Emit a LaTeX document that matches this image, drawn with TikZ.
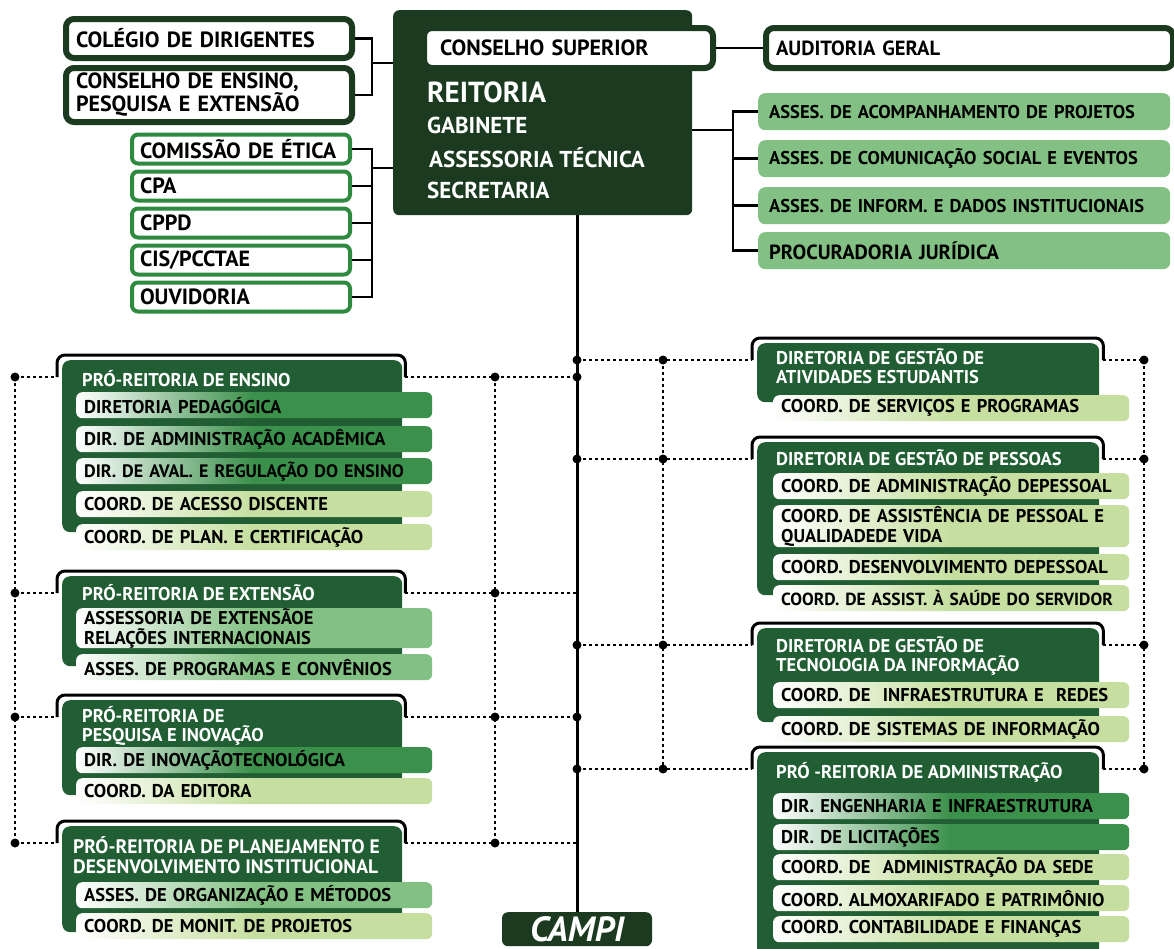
\documentclass[tikz,border=0pt]{standalone}
\usepackage{fontspec}
\setmainfont{PT Sans}
\definecolor{escuro}{RGB}{27,58,32}
\definecolor{verdepro}{RGB}{34,94,51}
\definecolor{medio}{RGB}{59,144,75}
\definecolor{claromedio}{RGB}{131,192,131}
\definecolor{claro}{RGB}{198,223,160}
\definecolor{verde}{RGB}{45,138,62}

\begin{document}
\begin{tikzpicture}[x=1pt,y=-1pt,
    moldura/.style={draw=escuro, line width=6pt, fill=white, rounded corners=8pt, anchor=north west,
      align=left, inner xsep=10pt, inner ysep=0pt, font=\bfseries\fontsize{22}{23}\selectfont},
    comissao/.style={draw=verde, line width=4pt, fill=white, rounded corners=6pt, anchor=west,
      text width=202pt, minimum height=29pt, inner xsep=8pt, inner ysep=0pt, align=left,
      font=\bfseries\fontsize{22}{23}\selectfont},
    assessoria/.style={fill=claromedio, rounded corners=7pt, anchor=north west, text width=390pt,
      minimum height=37pt, inner xsep=11pt, inner ysep=0pt, align=left,
      font=\bfseries\fontsize{18.5}{21}\selectfont},
    diretoria/.style={fill=verdepro, rounded corners=8pt, anchor=north west, minimum width=340pt},
    titulo/.style={text=white, anchor=west, align=left, inner sep=0pt,
      font=\bfseries\fontsize{18.5}{19.5}\selectfont},
    sub/.style={rounded corners=6pt, left color=white, right color=#1, middle color=#1,
      anchor=north west, text width=340pt, minimum height=26pt, inner xsep=8pt, inner ysep=0pt,
      align=left, font=\bfseries\fontsize{18.5}{20}\selectfont},
    reit/.style={text=white, anchor=west, inner sep=0pt, font=\bfseries\fontsize{23}{25}\selectfont},
    colchete/.style={draw=black, line width=3pt, rounded corners=8pt},
    pontilhado/.style={line width=2.5pt, dash pattern=on 2.5pt off 3.5pt},
    ligacao/.style={line width=2.5pt},
    tronco/.style={line width=3pt}
  ]
  \useasboundingbox (0,0) rectangle (1174,948);
  \clip (0,0) rectangle (1174,948);

  % reitoria e conselhos
  \node[fill=escuro, rounded corners=6pt, anchor=north west, minimum width=299pt, minimum height=205pt] (reitoria) at (393,10) {};
  \node[moldura, inner xsep=16pt, text width=257pt, minimum height=40pt] (consup) at (421,25) {CONSELHO SUPERIOR};
  \node[reit, font=\bfseries\fontsize{29}{30}\selectfont] (reit-t) at (427,92) {REITORIA};
  \node[reit] (gab) at (427,125) {GABINETE};
  \node[reit] (asstec) at (429,158) {ASSESSORIA TÉCNICA};
  \node[reit] (secr) at (427,190) {SECRETARIA};

  \node[moldura, text width=266pt, minimum height=39pt] (coldir) at (63,16) {COLÉGIO DE DIRIGENTES};
  \node[moldura, text width=266pt, minimum height=54pt] (consens) at (63,65) {CONSELHO DE ENSINO,\\PESQUISA E EXTENSÃO};
  \node[moldura, text width=387pt, minimum height=40pt, font=\bfseries\fontsize{20.5}{22}\selectfont] (audit) at (763,25) {AUDITORIA GERAL};

  \node[comissao] (etica) at (130,149) {COMISSÃO DE ÉTICA};
  \node[comissao] (cpa) at (130,186) {CPA};
  \node[comissao] (cppd) at (130,223) {CPPD};
  \node[comissao] (cis) at (130,260) {CIS/PCCTAE};
  \node[comissao] (ouvid) at (130,297) {OUVIDORIA};

  \node[assessoria] (acomp) at (758,93) {ASSES. DE ACOMPANHAMENTO DE PROJETOS};
  \node[assessoria] (comun) at (758,140) {ASSES. DE COMUNICAÇÃO SOCIAL E EVENTOS};
  \node[assessoria] (inform) at (758,187) {ASSES. DE INFORM. E DADOS INSTITUCIONAIS};
  \node[assessoria, font=\bfseries\fontsize{20.5}{21}\selectfont] (proc) at (758,232) {PROCURADORIA JURÍDICA};

  \coordinate (jcons) at (372,63);
  \draw[ligacao] (coldir.east) -| (jcons) |- (consens.east);
  \draw[ligacao] (jcons) -- (jcons -| reitoria.west);
  \coordinate (jcom) at (372,168);
  \draw[ligacao] (etica.east) -| (jcom |- ouvid.east) -- (ouvid.east);
  \draw[ligacao] (cpa.east) -- (jcom |- cpa.east);
  \draw[ligacao] (cppd.east) -- (jcom |- cppd.east);
  \draw[ligacao] (cis.east) -- (jcom |- cis.east);
  \draw[ligacao] (jcom) -- (jcom -| reitoria.west);
  \draw[ligacao] (consup.east) -- (audit.west);
  \coordinate (jass) at (733,130);
  \draw[ligacao] (acomp.west) -| (jass |- proc.west) -- (proc.west);
  \draw[ligacao] (comun.west) -- (jass |- comun.west);
  \draw[ligacao] (inform.west) -- (jass |- inform.west);
  \draw[ligacao] (jass) -- (jass -| reitoria.east);

  % pro-reitorias (esquerda)
  \node[diretoria, minimum height=172pt] (pre) at (62,360) {};
  \node[diretoria, minimum height=90pt] (prex) at (62,576) {};
  \node[diretoria, minimum height=95pt] (prpi) at (62,700) {};
  \node[diretoria, minimum height=106pt] (prpdi) at (62,826) {};
  \node[titulo] (pre-t) at (82,379) {PRÓ-REITORIA DE ENSINO};
  \node[titulo] (prex-t) at (82,593) {PRÓ-REITORIA DE EXTENSÃO};
  \node[titulo] (prpi-t) at (82,726) {PRÓ-REITORIA DE\\PESQUISA E INOVAÇÃO};
  \node[titulo, font=\bfseries\fontsize{19.5}{20}\selectfont] (prpdi-t) at (73,855) {PRÓ-REITORIA DE PLANEJAMENTO E\\DESENVOLVIMENTO INSTITUCIONAL};

  \node[sub=medio] (dped) at (76,392) {DIRETORIA PEDAGÓGICA};
  \node[sub=medio] (dacad) at (76,426) {DIR. DE ADMINISTRAÇÃO ACADÊMICA};
  \node[sub=medio, font=\bfseries\fontsize{18}{20}\selectfont] (daval) at (76,458) {DIR. DE AVAL. E REGULAÇÃO DO ENSINO};
  \node[sub=claro] (cacesso) at (76,491) {COORD. DE ACESSO DISCENTE};
  \node[sub=claro] (cplan) at (76,524) {COORD. DE PLAN. E CERTIFICAÇÃO};
  \node[sub=claromedio, minimum height=40pt] (aext) at (76,608) {ASSESSORIA DE EXTENSÃOE\\RELAÇÕES INTERNACIONAIS};
  \node[sub=claromedio] (aprog) at (76,654) {ASSES. DE PROGRAMAS E CONVÊNIOS};
  \node[sub=medio] (dinov) at (76,747) {DIR. DE INOVAÇÃOTECNOLÓGICA};
  \node[sub=claro] (cedit) at (76,778) {COORD. DA EDITORA};
  \node[sub=claromedio] (aorg) at (76,882) {ASSES. DE ORGANIZAÇÃO E MÉTODOS};
  \node[sub=claro] (cmonit) at (76,913) {COORD. DE MONIT. DE PROJETOS};

  % diretorias (direita)
  \node[diretoria, minimum width=342pt, minimum height=59pt] (dgae) at (757,343) {};
  \node[diretoria, minimum width=342pt, minimum height=153pt] (dgp) at (757,442) {};
  \node[diretoria, minimum width=342pt, minimum height=94pt] (dgti) at (757,628) {};
  \node[diretoria, minimum width=342pt, minimum height=220pt] (proad) at (757,752) {};
  \node[titulo] (dgae-t) at (776,366) {DIRETORIA DE GESTÃO DE\\ATIVIDADES ESTUDANTIS};
  \node[titulo] (dgp-t) at (776,458) {DIRETORIA DE GESTÃO DE PESSOAS};
  \node[titulo] (dgti-t) at (776,656) {DIRETORIA DE GESTÃO DE\\TECNOLOGIA DA INFORMAÇÃO};
  \node[titulo] (proad-t) at (776,772) {PRÓ -REITORIA DE ADMINISTRAÇÃO};

  \node[sub=claro] (cserv) at (773,395) {COORD. DE SERVIÇOS E PROGRAMAS};
  \node[sub=claro] (cadmp) at (773,473) {COORD. DE ADMINISTRAÇÃO DEPESSOAL};
  \node[sub=claro, minimum height=42pt] (cassp) at (773,505) {COORD. DE ASSISTÊNCIA DE PESSOAL E\\QUALIDADEDE VIDA};
  \node[sub=claro] (cdesp) at (773,554) {COORD. DESENVOLVIMENTO DEPESSOAL};
  \node[sub=claro, font=\bfseries\fontsize{17.5}{20}\selectfont] (csaude) at (773,585) {COORD. DE ASSIST. À SAÚDE DO SERVIDOR};
  \node[sub=claro] (credes) at (773,682) {COORD. DE~ INFRAESTRUTURA E~ REDES};
  \node[sub=claro] (csist) at (773,716) {COORD. DE SISTEMAS DE INFORMAÇÃO};
  \node[sub=medio] (deng) at (773,793) {DIR. ENGENHARIA E INFRAESTRUTURA};
  \node[sub=medio] (dlic) at (773,824) {DIR. DE LICITAÇÕES};
  \node[sub=claro] (csede) at (773,854) {COORD. DE~ ADMINISTRAÇÃO DA SEDE};
  \node[sub=claro] (calmox) at (773,885) {COORD. ALMOXARIFADO E PATRIMÔNIO};
  \node[sub=claro] (ccont) at (773,916) {COORD. CONTABILIDADE E FINANÇAS};

  \node[fill=escuro, rounded corners=6pt, anchor=north, minimum width=150pt, minimum height=34pt, inner sep=0pt,
    text=white, font=\bfseries\itshape\fontsize{35}{36}\selectfont] (campi) at (577,912) {CAMPI};

  % colchetes
  \draw[colchete] ([shift={(-5,17)}]pre.north west) coordinate (pre-l) |- ([shift={(3,-5)}]pre.north east) -- ([shift={(3,17)}]pre.north east) coordinate (pre-r);
  \draw[colchete] ([shift={(-5,17)}]prex.north west) coordinate (prex-l) |- ([shift={(3,-5)}]prex.north east) -- ([shift={(3,17)}]prex.north east) coordinate (prex-r);
  \draw[colchete] ([shift={(-5,17)}]prpi.north west) coordinate (prpi-l) |- ([shift={(3,-5)}]prpi.north east) -- ([shift={(3,17)}]prpi.north east) coordinate (prpi-r);
  \draw[colchete] ([shift={(-5,17)}]prpdi.north west) coordinate (prpdi-l) |- ([shift={(3,-5)}]prpdi.north east) -- ([shift={(3,17)}]prpdi.north east) coordinate (prpdi-r);
  \draw[colchete] ([shift={(-5,17)}]dgae.north west) coordinate (dgae-l) |- ([shift={(4,-5)}]dgae.north east) -- ([shift={(4,17)}]dgae.north east) coordinate (dgae-r);
  \draw[colchete] ([shift={(-5,17)}]dgp.north west) coordinate (dgp-l) |- ([shift={(4,-5)}]dgp.north east) -- ([shift={(4,17)}]dgp.north east) coordinate (dgp-r);
  \draw[colchete] ([shift={(-5,17)}]dgti.north west) coordinate (dgti-l) |- ([shift={(4,-5)}]dgti.north east) -- ([shift={(4,17)}]dgti.north east) coordinate (dgti-r);
  \draw[colchete] ([shift={(-5,17)}]proad.north west) coordinate (proad-l) |- ([shift={(4,-5)}]proad.north east) -- ([shift={(4,17)}]proad.north east) coordinate (proad-r);

  % tronco e pontilhados
  \coordinate (esq) at (15,0);
  \coordinate (meio) at (495,0);
  \coordinate (dir) at (663,0);
  \coordinate (borda) at (1144,0);
  \draw[tronco] (campi.north |- reitoria.south) -- (campi.north);

  \draw[pontilhado] (esq |- pre-l) -- (esq |- prpdi-l);
  \draw[pontilhado] (meio |- pre-r) -- (meio |- prpdi-r);
  \draw[pontilhado] (esq |- pre-l) -- (pre-l) (pre-r) -- (campi.north |- pre-r);
  \draw[pontilhado] (esq |- prex-l) -- (prex-l) (prex-r) -- (campi.north |- prex-r);
  \draw[pontilhado] (esq |- prpi-l) -- (prpi-l) (prpi-r) -- (campi.north |- prpi-r);
  \draw[pontilhado] (esq |- prpdi-l) -- (prpdi-l) (prpdi-r) -- (campi.north |- prpdi-r);

  \draw[pontilhado] (dir |- dgae-l) -- (dir |- proad-l);
  \draw[pontilhado] (borda |- dgae-r) -- (borda |- proad-r);
  \draw[pontilhado] (campi.north |- dgae-l) -- (dgae-l) (dgae-r) -- (borda |- dgae-r);
  \draw[pontilhado] (campi.north |- dgp-l) -- (dgp-l) (dgp-r) -- (borda |- dgp-r);
  \draw[pontilhado] (campi.north |- dgti-l) -- (dgti-l) (dgti-r) -- (borda |- dgti-r);
  \draw[pontilhado] (campi.north |- proad-l) -- (proad-l) (proad-r) -- (borda |- proad-r);

  % pontos
  \fill (esq |- pre-l) circle (4.5pt) (esq |- prex-l) circle (4.5pt) (esq |- prpi-l) circle (4.5pt) (esq |- prpdi-l) circle (4.5pt);
  \fill (meio |- pre-r) circle (4.5pt) (meio |- prex-r) circle (4.5pt) (meio |- prpi-r) circle (4.5pt) (meio |- prpdi-r) circle (4.5pt);
  \fill (campi.north |- pre-r) circle (4.5pt) (campi.north |- prpi-r) circle (4.5pt);
  \fill (campi.north |- dgae-l) circle (4.5pt) (campi.north |- dgp-l) circle (4.5pt) (campi.north |- dgti-l) circle (4.5pt) (campi.north |- proad-l) circle (4.5pt);
  \fill (dir |- dgae-l) circle (4.5pt) (dir |- dgp-l) circle (4.5pt) (dir |- dgti-l) circle (4.5pt) (dir |- proad-l) circle (4.5pt);
  \fill (borda |- dgae-r) circle (4.5pt) (borda |- dgp-r) circle (4.5pt) (borda |- dgti-r) circle (4.5pt) (borda |- proad-r) circle (4.5pt);
\end{tikzpicture}
\end{document}
